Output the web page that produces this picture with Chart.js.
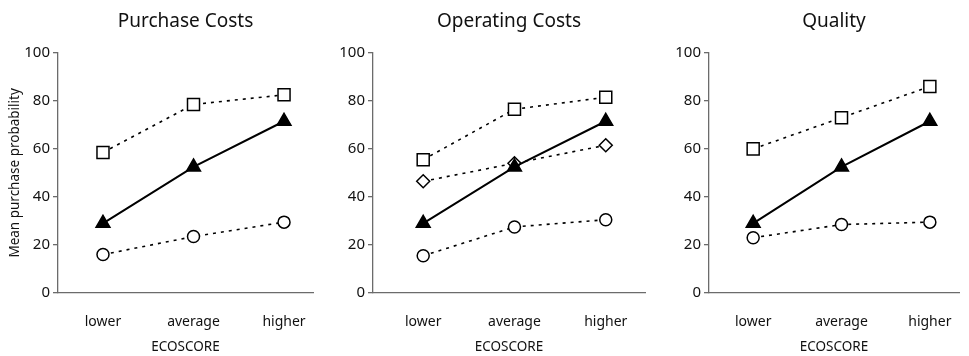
<!DOCTYPE html>
<html>
<head>
<meta charset="utf-8">
<script src="https://cdn.jsdelivr.net/npm/chart.js@4"></script>
<style>
  body { margin: 0; background: #fff; }
  #wrap { position: relative; width: 969px; height: 356px; }
  canvas { position: absolute; top: 0; }
</style>
</head>
<body>
<div id="wrap">
  <canvas id="purchase" width="323" height="356" style="left:0px"></canvas>
  <canvas id="operating" width="325" height="356" style="left:330px"></canvas>
  <canvas id="quality" width="309" height="356" style="left:660px"></canvas>
</div>
<script>
const categories = ["lower", "average", "higher"];
const yTicks = [0, 20, 40, 60, 80, 100];

// Purchase Costs
const purchaseSquare = [58.5, 78.5, 82.5];
const purchaseTriangle = [29, 52.5, 71.5];
const purchaseCircle = [16, 23.5, 29.5];

// Operating Costs
const operatingSquare = [55.5, 76.5, 81.5];
const operatingDiamond = [46.5, 54, 61.5];
const operatingTriangle = [29, 52.5, 71.5];
const operatingCircle = [15.5, 27.5, 30.5];

// Quality
const qualitySquare = [60, 73, 86];
const qualityTriangle = [29, 52.5, 71.5];
const qualityCircle = [23, 28.5, 29.5];

const FONT = "'Noto Sans', sans-serif";
const INK = "#111";
const AXIS = "#6b6b6b";

const styles = {
  square:   { pointStyle: "rect",     pointRadius: 8.5, fill: "#fff", dash: [3, 5], width: 1.6 },
  diamond:  { pointStyle: "rectRot",  pointRadius: 6.5, fill: "#fff", dash: [3, 5], width: 1.6 },
  circle:   { pointStyle: "circle",   pointRadius: 6,   fill: "#fff", dash: [3, 5], width: 1.6 },
  triangle: { pointStyle: "triangle", pointRadius: 8,   fill: "#000", dash: [],     width: 2 }
};

function series(label, values, kind) {
  const s = styles[kind];
  return {
    label: label,
    data: values.map((v, i) => ({ x: i, y: v })),
    borderColor: "#000",
    borderWidth: s.width,
    borderDash: s.dash,
    pointStyle: s.pointStyle,
    pointRadius: s.pointRadius,
    pointBackgroundColor: s.fill,
    pointBorderColor: "#000",
    pointBorderWidth: 1.5,
    tension: 0
  };
}

function makePanel(id, title, datasets, xMin, xMax, yWidth, padRight, yTitle) {
  new Chart(document.getElementById(id), {
    type: "line",
    data: { datasets: datasets },
    options: {
      responsive: false,
      animation: false,
      devicePixelRatio: 1,
      layout: { padding: { left: 0, right: padRight, top: 0, bottom: 0 } },
      plugins: {
        legend: { display: false },
        tooltip: { enabled: false },
        title: {
          display: true,
          text: title,
          fullSize: false,
          color: INK,
          font: { family: FONT, size: 19, weight: "normal" },
          padding: { top: 10, bottom: 20 }
        }
      },
      scales: {
        x: {
          type: "linear",
          min: xMin,
          max: xMax,
          afterBuildTicks: (scale) => {
            scale.ticks = categories.map((c, i) => ({ value: i }));
          },
          afterFit: (scale) => { scale.height = 63; },
          // invisible tick marks used only to push the labels down
          grid: { display: false, drawTicks: true, tickLength: 21 },
          border: { display: true, color: AXIS, width: 1.3 },
          ticks: {
            color: INK,
            padding: 0,
            maxRotation: 0,
            font: { family: FONT, size: 14 },
            callback: (v) => categories[v]
          },
          title: {
            display: true,
            text: "ECOSCORE",
            color: INK,
            font: { family: FONT, size: 13.5 },
            padding: { top: 0, bottom: 1 }
          }
        },
        y: {
          min: 0,
          max: 100,
          afterBuildTicks: (scale) => {
            scale.ticks = yTicks.map((v) => ({ value: v }));
          },
          afterFit: (scale) => { scale.width = yWidth; },
          grid: { drawOnChartArea: false, drawTicks: true, tickLength: 5, color: AXIS, lineWidth: 1.3 },
          border: { display: true, color: AXIS, width: 1.3 },
          ticks: {
            color: INK,
            padding: 3,
            font: { family: FONT, size: 15 }
          },
          title: {
            display: yTitle,
            text: "Mean purchase probability",
            color: INK,
            font: { family: FONT, size: 13.5 },
            padding: { top: 7, bottom: 0 }
          }
        }
      }
    }
  });
}

makePanel("purchase", "Purchase Costs", [
  series("Square", purchaseSquare, "square"),
  series("Triangle", purchaseTriangle, "triangle"),
  series("Circle", purchaseCircle, "circle")
], -0.497, 2.32, 58, 10, true);

makePanel("operating", "Operating Costs", [
  series("Square", operatingSquare, "square"),
  series("Triangle", operatingTriangle, "triangle"),
  series("Diamond", operatingDiamond, "diamond"),
  series("Circle", operatingCircle, "circle")
], -0.55, 2.43, 43, 10, false);

makePanel("quality", "Quality", [
  series("Square", qualitySquare, "square"),
  series("Triangle", qualityTriangle, "triangle"),
  series("Circle", qualityCircle, "circle")
], -0.5, 2.33, 49, 1, false);
</script>
</body>
</html>
